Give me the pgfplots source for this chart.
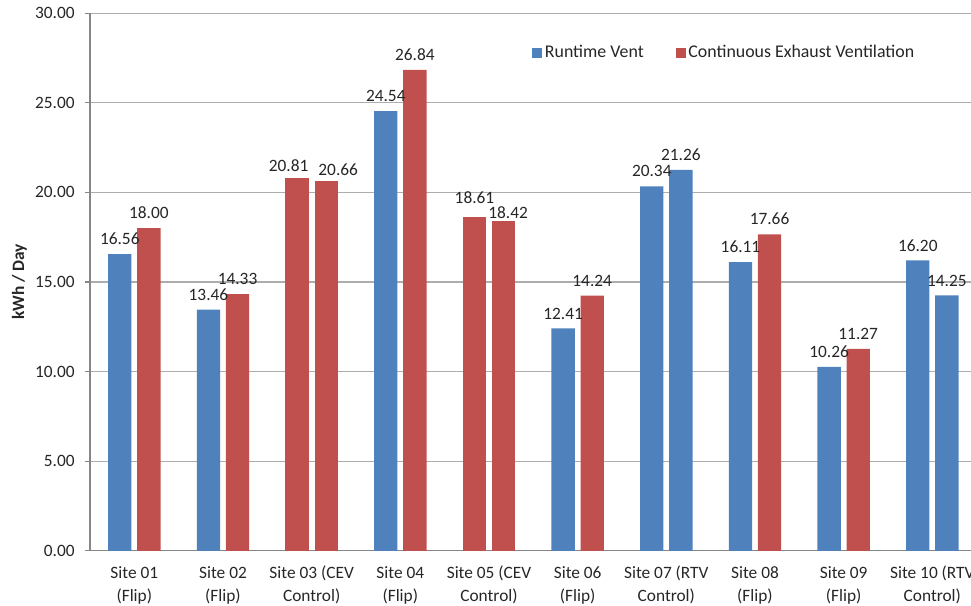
\documentclass[border=0pt]{standalone}
\usepackage{fontspec}
\setmainfont{Carlito}
\usepackage{pgfplots}
\pgfplotsset{compat=1.18}

\definecolor{rtvblue}{HTML}{4F81BD}
\definecolor{cevred}{HTML}{C0504D}
\definecolor{gridgray}{HTML}{ADADAD}
\definecolor{axisgray}{HTML}{868686}
\definecolor{txt}{HTML}{262626}

\begin{document}
\fontsize{13}{15.6}\selectfont
\begin{tikzpicture}
\useasboundingbox (0,0) rectangle (728.25pt,454.5pt);
\begin{axis}[
  at={(67.5pt,41.4pt)}, anchor=south west,
  scale only axis, width=665pt, height=403.2pt,
  ybar, bar width=17.5pt,
  xmin=0.5, xmax=10.5, ymin=0, ymax=30,
  axis x line=bottom, axis y line=left,
  axis line style={axisgray, line width=0.8pt, -},
  xtick={1,...,10},
  xticklabels={{Site 01\\(Flip)},{Site 02\\(Flip)},{Site 03 (CEV\\Control)},
    {Site 04\\(Flip)},{Site 05 (CEV\\Control)},{Site 06\\(Flip)},
    {Site 07 (RTV\\Control)},{Site 08\\(Flip)},{Site 09\\(Flip)},
    {Site 10 (RTV\\Control)}},
  xticklabel style={align=center, text=txt, font=\fontsize{13}{17.25}\selectfont, yshift=-3pt},
  x tick style={draw=none},
  ytick={0,5,...,30},
  y tick style={axisgray, line width=0.8pt},
  tick align=outside, major tick length=4pt,
  yticklabel style={text=txt, xshift=-3pt, /pgf/number format/.cd, fixed, fixed zerofill, precision=2, assume math mode=true},
  ymajorgrids, grid style={gridgray, line width=0.8pt},
  ylabel={\textbf{kWh / Day}},
  every axis y label/.style={at={(rel axis cs:0,0.5)}, xshift=-53pt, rotate=90, anchor=center, text=txt},
  nodes near coords,
  every node near coord/.append style={text=txt, yshift=2.4pt, font=\fontsize{13}{15.6}\selectfont,
    /pgf/number format/fixed, /pgf/number format/fixed zerofill,
    /pgf/number format/precision=2, /pgf/number format/assume math mode=true},
  legend style={at={(0.4985,0.926)}, anchor=west, draw=none, fill=none, inner sep=0pt,
    font=\fontsize{13.4}{16}\selectfont, text=txt},
  legend columns=2,
  legend image code/.code={\fill[#1] (0pt,-3.75pt) rectangle (7.5pt,3.75pt);},
  /tikz/every even column/.append style={column sep=22pt},
]
% left bars, Runtime Vent colour
\addplot[fill=rtvblue, draw=none, bar shift=-10.9pt] coordinates {
  (1,16.56) (2,13.46) (4,24.54) (6,12.41) (7,20.34) (8,16.11) (9,10.26) (10,16.20)};
\addlegendentry{Runtime Vent}
% right bars, CEV colour
\addplot[fill=cevred, draw=none, bar shift=10.9pt] coordinates {
  (1,18.00) (2,14.33) (4,26.84) (6,14.24) (8,17.66) (9,11.27)};
\addlegendentry{Continuous Exhaust Ventilation}
% control sites: both bars one colour, labels moved apart as in the source
\addplot[fill=cevred, draw=none, bar shift=-10.9pt, forget plot,
  every node near coord/.append style={xshift=-6.4pt, yshift=-2.25pt}] coordinates {(3,20.81)};
\addplot[fill=cevred, draw=none, bar shift=10.9pt, forget plot,
  every node near coord/.append style={xshift=9pt, yshift=-3.5pt}] coordinates {(3,20.66)};
\addplot[fill=cevred, draw=none, bar shift=-10.9pt, forget plot,
  every node near coord/.append style={yshift=3pt}] coordinates {(5,18.61)};
\addplot[fill=cevred, draw=none, bar shift=10.9pt, forget plot,
  every node near coord/.append style={xshift=3.4pt, yshift=-5.25pt}] coordinates {(5,18.42)};
\addplot[fill=rtvblue, draw=none, bar shift=10.9pt, forget plot] coordinates {
  (7,21.26) (10,14.25)};
\end{axis}
\end{tikzpicture}
\end{document}
